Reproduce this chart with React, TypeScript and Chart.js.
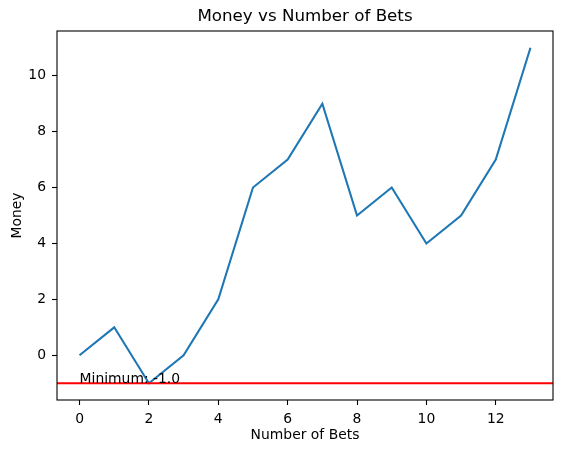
import React, { useEffect, useRef } from "react";
import { Chart, registerables } from "chart.js";

Chart.register(...registerables);

const bets = [0, 1, 2, 3, 4, 5, 6, 7, 8, 9, 10, 11, 12, 13];
const money = [0, 1, -1, 0, 2, 6, 7, 9, 5, 6, 4, 5, 7, 11];
const xTicks = [0, 2, 4, 6, 8, 10, 12];
const yTicks = [0, 2, 4, 6, 8, 10];
const titleText = "Money vs Number of Bets";
const xLabel = "Number of Bets";
const yLabel = "Money";

const FONT = "'DejaVu Sans', sans-serif";

export default function App() {
  const ref = useRef<HTMLCanvasElement | null>(null);

  useEffect(() => {
    document.body.style.margin = "0";
    const canvas = ref.current;
    if (!canvas) return;
    const minVal = Math.min(...money);
    const xMin = Math.min(...bets);
    const xMax = Math.max(...bets);
    const yMax = Math.max(...money);
    const xm = (xMax - xMin) * 0.05;
    const ym = (yMax - minVal) * 0.05;

    const overlay = {
      id: "overlay",
      afterDatasetsDraw(chart: any) {
        const ctx = chart.ctx;
        const a = chart.chartArea;
        const xs = chart.scales.x;
        const ys = chart.scales.y;
        ctx.save();
        const yp = ys.getPixelForValue(minVal);
        ctx.strokeStyle = "red";
        ctx.lineWidth = 2;
        ctx.beginPath();
        ctx.moveTo(a.left, yp);
        ctx.lineTo(a.right, yp);
        ctx.stroke();
        ctx.fillStyle = "#000";
        ctx.font = `13.9px ${FONT}`;
        ctx.textAlign = "left";
        ctx.textBaseline = "alphabetic";
        ctx.fillText(`Minimum: ${minVal.toFixed(1)}`, xs.getPixelForValue(xMin), yp);
        ctx.restore();
      },
      afterDraw(chart: any) {
        const ctx = chart.ctx;
        const a = chart.chartArea;
        ctx.save();
        ctx.strokeStyle = "#000";
        ctx.lineWidth = 1.1;
        ctx.strokeRect(a.left, a.top, a.right - a.left, a.bottom - a.top);
        ctx.fillStyle = "#000";
        ctx.textAlign = "center";
        ctx.textBaseline = "middle";
        ctx.font = `16.7px ${FONT}`;
        ctx.fillText(titleText, (a.left + a.right) / 2, 17);
        ctx.font = `13.9px ${FONT}`;
        ctx.fillText(xLabel, (a.left + a.right) / 2, 435);
        ctx.translate(17, (a.top + a.bottom) / 2);
        ctx.rotate(-Math.PI / 2);
        ctx.fillText(yLabel, 0, 0);
        ctx.restore();
      },
    };

    const chart = new Chart(canvas, {
      type: "line",
      data: {
        datasets: [
          {
            data: bets.map((b, i) => ({ x: b, y: money[i] })),
            borderColor: "#1f77b4",
            borderWidth: 2.1,
            pointRadius: 0,
            tension: 0,
            fill: false,
          },
        ],
      },
      options: {
        animation: false,
        responsive: false,
        maintainAspectRatio: false,
        layout: { padding: { top: 31, right: 10, left: 0, bottom: 0 } },
        plugins: { legend: { display: false }, title: { display: false }, tooltip: { enabled: false } },
        scales: {
          x: {
            type: "linear",
            min: xMin - xm,
            max: xMax + xm,
            afterBuildTicks: (s: any) => {
              s.ticks = xTicks.map((v) => ({ value: v }));
            },
            afterFit: (s: any) => {
              s.height = 53;
            },
            grid: { drawOnChartArea: false, drawTicks: true, tickLength: 5, tickColor: "#000", tickWidth: 1.1 },
            border: { display: false },
            ticks: { color: "#000", font: { family: FONT, size: 13.9 }, padding: 6, maxRotation: 0 },
          },
          y: {
            type: "linear",
            min: minVal - ym,
            max: yMax + ym,
            afterBuildTicks: (s: any) => {
              s.ticks = yTicks.map((v) => ({ value: v }));
            },
            afterFit: (s: any) => {
              s.width = 57;
            },
            grid: { drawOnChartArea: false, drawTicks: true, tickLength: 5, tickColor: "#000", tickWidth: 1.1 },
            border: { display: false },
            ticks: { color: "#000", font: { family: FONT, size: 13.9 }, padding: 6 },
          },
        },
      },
      plugins: [overlay],
    });
    return () => chart.destroy();
  }, []);

  return (
    <div style={{ width: 563, height: 453 }}>
      <canvas ref={ref} width={563} height={453} style={{ display: "block" }} />
    </div>
  );
}
